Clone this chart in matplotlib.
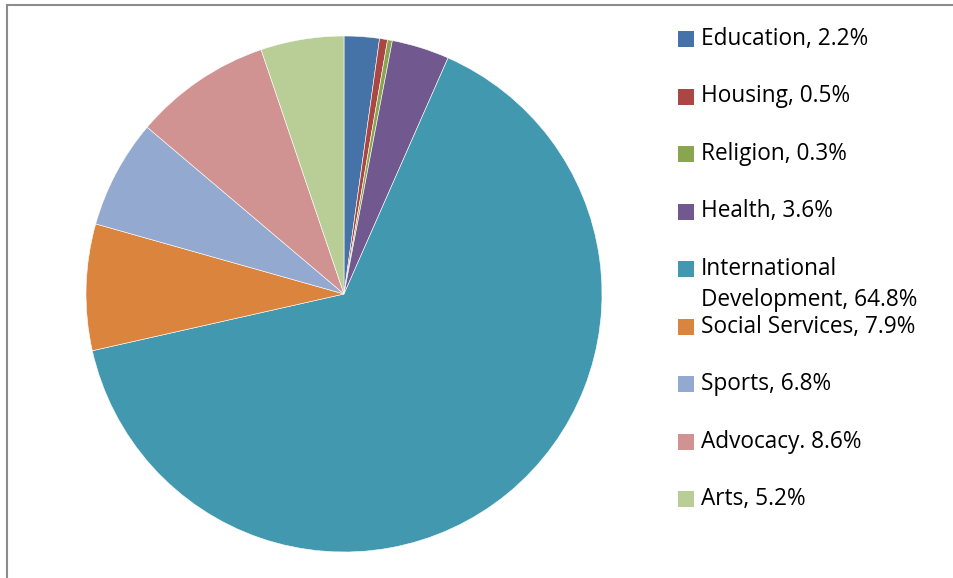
import matplotlib
matplotlib.use("Agg")
from matplotlib import pyplot as plt
from matplotlib.patches import Rectangle

# data
labels = ["Education, 2.2%", "Housing, 0.5%", "Religion, 0.3%", "Health, 3.6%",
          "International\nDevelopment, 64.8%", "Social Services, 7.9%",
          "Sports, 6.8%", "Advocacy. 8.6%", "Arts, 5.2%"]
values = [2.2, 0.5, 0.3, 3.6, 64.8, 7.9, 6.8, 8.6, 5.2]
colors = ["#4572A7", "#AA4643", "#89A54E", "#71588F", "#4198AF",
          "#DB843D", "#93A9CF", "#D19392", "#B9CD96"]

W, H = 954, 578
fig = plt.figure(figsize=(W / 100, H / 100), dpi=100)

# pie: centre (344, 294) px, radius ~258 px
cx, cy, r = 344, 294, 258
ax = fig.add_axes([(cx - r) / W, (H - cy - r) / H, 2 * r / W, 2 * r / H])
ax.pie(values, colors=colors, startangle=90, counterclock=False,
       wedgeprops=dict(edgecolor="white", linewidth=0.4), radius=1.0)
ax.set_xlim(-1, 1)
ax.set_ylim(-1, 1)
ax.set_aspect("auto")
ax.axis("off")

# chart border (cut off on the right and bottom)
fig.patches.append(Rectangle((7 / W, -0.05), 2.0, (H - 5) / H + 0.05,
                             transform=fig.transFigure, fill=False,
                             edgecolor="#8c8c8c", linewidth=1.5))

# legend drawn by hand, one row every ~57.5 px
y0 = 39
step = 57.5
line_gap = 31
for i, (lab, col) in enumerate(zip(labels, colors)):
    y = y0 + i * step
    fig.patches.append(Rectangle((678 / W, 1 - (y + 8) / H), 16 / W, 16 / H,
                                 transform=fig.transFigure, facecolor=col,
                                 edgecolor="none"))
    for k, line in enumerate(lab.split("\n")):
        fig.text(701 / W, 1 - (y + 6 + k * line_gap) / H, line, fontsize=16.3,
                 family="Open Sans", va="baseline", ha="left", color="black")

plt.savefig("out.png", dpi=100)
